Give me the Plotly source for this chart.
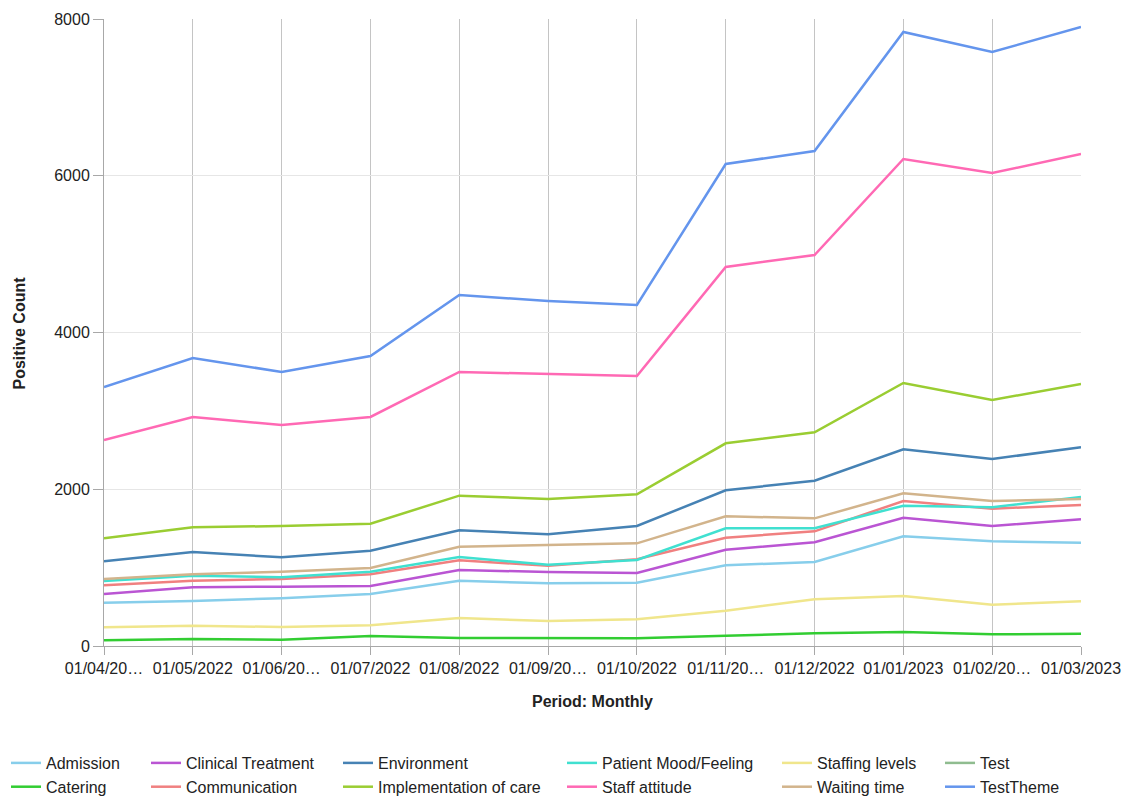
import plotly.graph_objects as go

periods = ["01/04/2022", "01/05/2022", "01/06/2022", "01/07/2022", "01/08/2022", "01/09/2022",
           "01/10/2022", "01/11/2022", "01/12/2022", "01/01/2023", "01/02/2023", "01/03/2023"]
period_labels = ["01/04/20…", "01/05/2022", "01/06/20…", "01/07/2022", "01/08/2022", "01/09/20…",
                 "01/10/2022", "01/11/20…", "01/12/2022", "01/01/2023", "01/02/20…", "01/03/2023"]

admission = [552, 574, 609, 663, 833, 800, 808, 1030, 1072, 1400, 1336, 1318]
catering = [73, 89, 80, 128, 102, 98, 98, 131, 162, 179, 149, 157]
clinical_treatment = [663, 749, 757, 766, 970, 944, 931, 1229, 1323, 1637, 1531, 1617]
communication = [774, 833, 855, 915, 1093, 1025, 1106, 1382, 1463, 1850, 1752, 1799]
environment = [1081, 1199, 1132, 1216, 1476, 1425, 1531, 1987, 2109, 2510, 2386, 2535]
implementation_of_care = [1374, 1515, 1531, 1560, 1918, 1876, 1935, 2586, 2727, 3356, 3139, 3343]
patient_mood = [829, 897, 877, 948, 1136, 1037, 1097, 1502, 1502, 1790, 1770, 1901]
staff_attitude = [2628, 2922, 2820, 2922, 3496, 3470, 3445, 4836, 4989, 6214, 6035, 6277]
staffing_levels = [239, 259, 242, 264, 357, 319, 341, 450, 596, 638, 527, 570]
test = [None] * 12  # no positive counts recorded for this theme
waiting_time = [855, 915, 948, 995, 1267, 1292, 1310, 1655, 1629, 1948, 1850, 1876]
test_theme = [3305, 3675, 3496, 3700, 4478, 4402, 4351, 6150, 6316, 7834, 7579, 7898]

x_title = "Period: Monthly"
y_title = "Positive Count"

# (name, values, colour, legend column)
series = [
    ("Admission", admission, "#87CEEB", "legend"),
    ("Catering", catering, "#32CD32", "legend"),
    ("Clinical Treatment", clinical_treatment, "#BA55D3", "legend2"),
    ("Communication", communication, "#F08080", "legend2"),
    ("Environment", environment, "#4682B4", "legend3"),
    ("Implementation of care", implementation_of_care, "#9ACD32", "legend3"),
    ("Patient Mood/Feeling", patient_mood, "#40E0D0", "legend4"),
    ("Staff attitude", staff_attitude, "#FF69B4", "legend4"),
    ("Staffing levels", staffing_levels, "#F0E68C", "legend5"),
    ("Waiting time", waiting_time, "#D2B48C", "legend5"),
    ("Test", test, "#8FBC8F", "legend6"),
    ("TestTheme", test_theme, "#6495ED", "legend6"),
]

FONT = "Liberation Sans, Arial, sans-serif"
W, H = 1126, 796

fig = go.Figure()
for name, vals, color, leg in series:
    fig.add_trace(go.Scatter(
        x=periods, y=vals, name=name, mode="lines",
        line=dict(color=color, width=2.5),
        legend=leg, showlegend=True,
    ))

# legend columns laid out along the bottom
col_x = [6, 146, 338, 562, 777, 940]
legend_common = dict(
    xref="container", yref="container", xanchor="left", yanchor="top",
    orientation="v", font=dict(family=FONT, size=16, color="#222"),
    bgcolor="rgba(0,0,0,0)", borderwidth=0, traceorder="normal",
)
legend_layout = {}
for i, px in enumerate(col_x):
    key = "legend" if i == 0 else f"legend{i + 1}"
    legend_layout[key] = dict(legend_common, x=px / W, y=1 - 746 / H)

title_font = dict(family=FONT, size=16, color="#222")

fig.update_layout(
    width=W, height=H,
    margin=dict(l=104, r=45, t=19, b=150, autoexpand=False),
    paper_bgcolor="white", plot_bgcolor="white",
    font=dict(family=FONT, size=16, color="#222"),
    showlegend=True,
    annotations=[
        dict(text=f"<b>{x_title}</b>", xref="paper", yref="paper", x=0.5, y=-0.0893,
             xanchor="center", yanchor="middle", showarrow=False, font=title_font),
        dict(text=f"<b>{y_title}</b>", xref="paper", yref="paper", x=-0.086, y=0.5,
             xanchor="center", yanchor="middle", textangle=-90, showarrow=False, font=title_font),
    ],
    **legend_layout,
)

fig.update_xaxes(
    type="category", categoryorder="array", categoryarray=periods,
    range=[0, 11],
    tickmode="array", tickvals=periods, ticktext=period_labels,
    showgrid=True, gridcolor="#c4c4c4", gridwidth=1,
    showline=True, linecolor="#a8a8a8", linewidth=1,
    ticks="outside", ticklen=8, tickcolor="#a8a8a8",
    tickfont=dict(family=FONT, size=16, color="#222"),
    tickangle=0,
    zeroline=False,
)
fig.update_yaxes(
    range=[0, 8000], tickmode="linear", dtick=2000, tick0=0,
    showgrid=True, gridcolor="#e6e6e6", gridwidth=1,
    showline=True, linecolor="#a8a8a8", linewidth=1,
    ticks="outside", ticklen=10, tickcolor="#a8a8a8",
    tickfont=dict(family=FONT, size=16, color="#222"),
    zeroline=False,
)

fig.write_html("out.html")
